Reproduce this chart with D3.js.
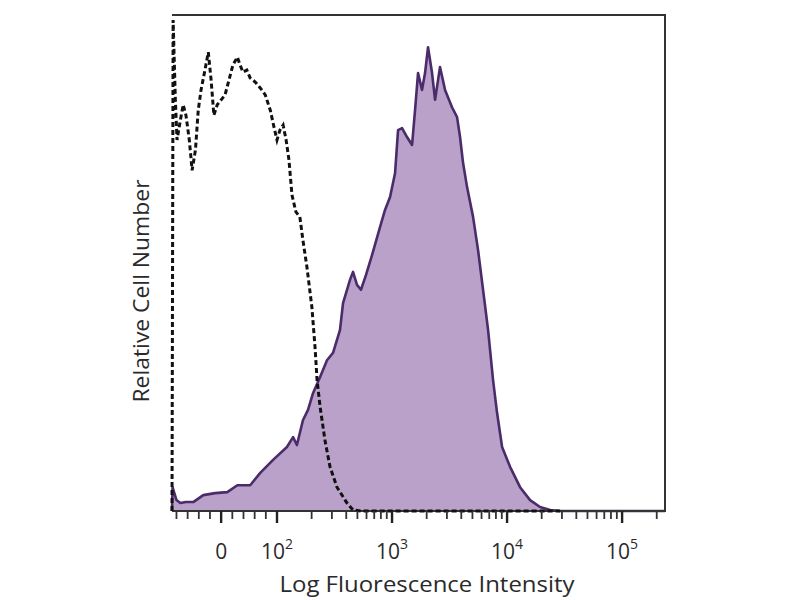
<!DOCTYPE html>
<html>
<head>
<meta charset="utf-8">
<script src="https://cdn.jsdelivr.net/npm/d3@7"></script>
<style>
  html, body { margin: 0; padding: 0; background: #fff; }
  svg { display: block; }
</style>
</head>
<body>
<svg id="chart" width="800" height="600"></svg>
<script>
// ---- Data (fluorescence intensity, relative cell number in % of max) ----
const stainedX = [-88,-87,-80,-73,-63,-50,-32,-11,11,29,52,70,93,122,138,149,168,186,206,237,272,307,353,375,431,458,496,537,594,670,787,869,961,1062,1128,1222,1350,1493,1585,1683,1823,1936,2056,2228,2366,2612,2890,3322,3675,3902,4142,4490,5063,5596,6184,6838,7556,8185,9052,10620,12970,15850,19360,23660,28900,236000];
const stainedY = [0,4.8,2.2,1.6,1.8,1.8,3.2,3.6,3.8,5.2,5.2,7.7,10.3,12.9,14.9,13.3,18.3,20.4,23.8,27.0,30.4,31.9,36.5,41.9,46.6,48.2,45.6,44.6,47.6,51.6,57.3,60.7,63.3,68.1,76.8,77.2,75.4,73.8,80.8,88.3,84.9,88.3,93.5,88.3,82.9,89.5,84.9,81.4,79.4,75.4,70.2,65.3,59.3,52.6,44.6,36.5,26.4,19.8,12.9,8.9,4.8,2.2,0.8,0.2,0,0];

const controlX = [-88,-86,-82,-79,-73,-68,-63,-57,-52,-46,-41,-36,-29,-23,-18,-13,-7,0,7,14,21,29,34,39,46,52,61,70,79,88,95,100,106,113,120,127,135,146,158,168,182,201,214,223,237,261,289,332,406,458,537,28900];
const controlY = [0,99.0,82.9,74.8,78.8,81.9,79.8,74.8,68.7,72.8,80.8,84.9,88.9,92.5,86.9,79.8,81.9,82.9,83.9,86.9,89.9,91.5,89.9,88.5,88.9,87.3,86.5,85.3,83.9,80.8,77.2,74.8,76.8,77.8,74.8,70.8,63.7,60.3,59.3,54.6,49.2,41.1,33.1,26.4,21.0,14.3,8.9,4.8,1.6,0.2,0,0];

const tickValues = [0, 1e2, 1e3, 1e4, 1e5];
const tickBase = ["0", "10", "10", "10", "10"];
const tickExp = ["", "2", "3", "4", "5"];
const minorTicks = [-80,-60,-40,-20,20,40,60,80,200,300,400,500,600,700,800,900,2000,3000,4000,5000,6000,7000,8000,9000,20000,30000,40000,50000,60000,70000,80000,90000,200000];

const xTitle = "Log Fluorescence Intensity";
const yTitle = "Relative Cell Number";

// ---- Layout ----
const pLeft = 172, pRight = 665, pTop = 15, pBottom = 511;
const linEnd = 100;           // linear region up to this value
const breakPx = 277;          // pixel where linear meets log

const xLin = d3.scaleLinear().domain([-88, linEnd]).range([pLeft, breakPx]);
const xLog = d3.scaleLog().domain([linEnd, 236000]).range([breakPx, pRight]);
const x = v => v <= linEnd ? xLin(v) : xLog(v);
const y = d3.scaleLinear().domain([0, 100]).range([pBottom, pTop]);

const svg = d3.select("#chart");
const fontFam = "'Open Sans', 'DejaVu Sans', sans-serif";
const textCol = "#2a2a2a";

const stained = stainedX.map((v, i) => [v, stainedY[i]]);
const control = controlX.map((v, i) => [v, controlY[i]]);

const area = d3.area().x(d => x(d[0])).y0(y(0)).y1(d => y(d[1]));
const line = d3.line().x(d => x(d[0])).y(d => y(d[1]));

svg.append("path").datum(stained).attr("d", area)
  .attr("fill", "#b9a1c9");
svg.append("path").datum(stained).attr("d", line)
  .attr("fill", "none").attr("stroke", "#4a2c6a").attr("stroke-width", 2.6)
  .attr("stroke-linejoin", "round");

// frame (top, right, bottom; the left edge is traced by the control histogram)
svg.append("path")
  .attr("d", `M${pLeft},${pTop}H${pRight}V${pBottom}H${pLeft}`)
  .attr("fill", "none").attr("stroke", "#333").attr("stroke-width", 2);

svg.append("path").datum(control).attr("d", line)
  .attr("fill", "none").attr("stroke", "#111").attr("stroke-width", 3)
  .attr("stroke-dasharray", "5,3");

// ticks
const g = svg.append("g");
g.selectAll("line.minor").data(minorTicks).join("line")
  .attr("class", "minor")
  .attr("x1", d => x(d)).attr("x2", d => x(d))
  .attr("y1", pBottom).attr("y2", pBottom + 8)
  .attr("stroke", "#333").attr("stroke-width", 1.8);
g.selectAll("line.major").data(tickValues).join("line")
  .attr("class", "major")
  .attr("x1", d => x(d)).attr("x2", d => x(d))
  .attr("y1", pBottom).attr("y2", pBottom + 12)
  .attr("stroke", "#222").attr("stroke-width", 2.4);

const labels = g.selectAll("text.tick").data(tickValues).join("text")
  .attr("class", "tick")
  .attr("x", d => x(d)).attr("y", 559)
  .attr("text-anchor", "middle")
  .attr("font-family", fontFam).attr("font-size", 21).attr("fill", textCol);
labels.append("tspan").text((d, i) => tickBase[i]);
labels.append("tspan").attr("dy", -10).attr("font-size", 14).text((d, i) => tickExp[i]);

svg.append("text").attr("x", 427).attr("y", 592)
  .attr("text-anchor", "middle")
  .attr("font-family", fontFam).attr("font-size", 22).attr("fill", textCol)
  .attr("textLength", 295).attr("lengthAdjust", "spacingAndGlyphs")
  .text(xTitle);

svg.append("text")
  .attr("transform", "translate(149,291) rotate(-90)")
  .attr("text-anchor", "middle")
  .attr("font-family", fontFam).attr("font-size", 21).attr("fill", textCol)
  .attr("textLength", 223).attr("lengthAdjust", "spacingAndGlyphs")
  .text(yTitle);
</script>
</body>
</html>
